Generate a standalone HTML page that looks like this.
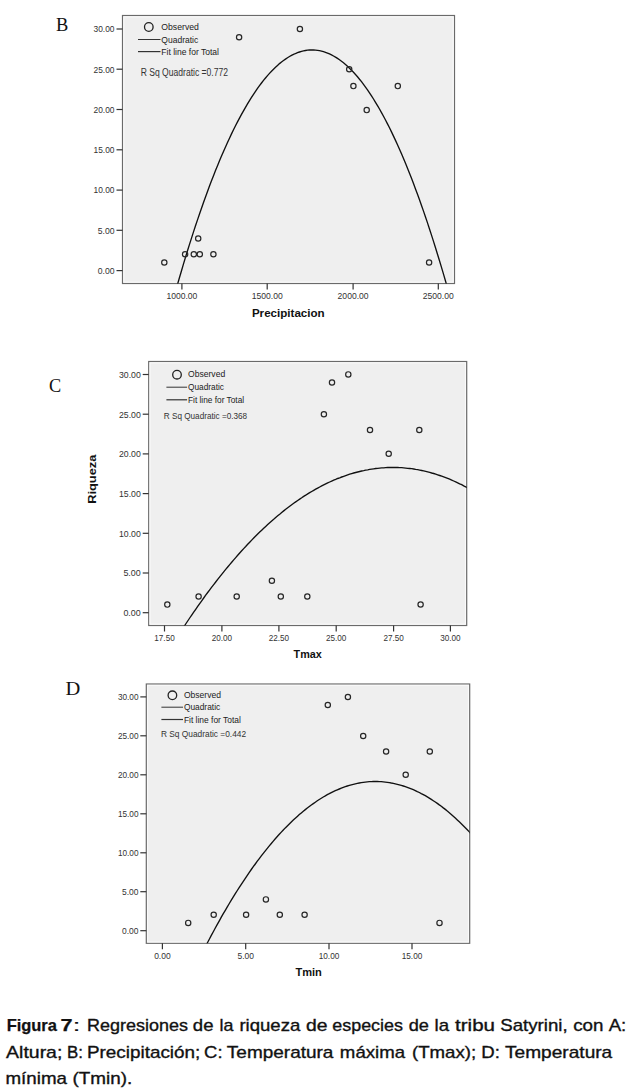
<!DOCTYPE html>
<html><head><meta charset="utf-8"><style>
html,body{margin:0;padding:0;background:#fff;}
body{width:627px;height:1089px;position:relative;overflow:hidden;}
svg{position:absolute;left:0;top:0;}
</style></head><body>
<svg width="627" height="1089" viewBox="0 0 627 1089">
<clipPath id="clipB"><rect x="122.5" y="15.5" width="332.0" height="268.0"/></clipPath>
<rect x="122.5" y="15.5" width="332.0" height="268.0" fill="#efefef" stroke="#6a6a6a" stroke-width="1.2"/>
<rect x="123.8" y="16.8" width="329.4" height="265.4" fill="none" stroke="#fbfbfb" stroke-width="1"/>
<line x1="116.5" y1="270.6" x2="122.5" y2="270.6" stroke="#333" stroke-width="1.2"/>
<text x="114.5" y="273.9" font-size="9.6" font-weight="normal" fill="#333" text-anchor="end" font-family='"Liberation Sans", sans-serif' textLength="16.8" lengthAdjust="spacingAndGlyphs" >0.00</text>
<line x1="116.5" y1="230.3" x2="122.5" y2="230.3" stroke="#333" stroke-width="1.2"/>
<text x="114.5" y="233.6" font-size="9.6" font-weight="normal" fill="#333" text-anchor="end" font-family='"Liberation Sans", sans-serif' textLength="16.8" lengthAdjust="spacingAndGlyphs" >5.00</text>
<line x1="116.5" y1="190.1" x2="122.5" y2="190.1" stroke="#333" stroke-width="1.2"/>
<text x="114.5" y="193.4" font-size="9.6" font-weight="normal" fill="#333" text-anchor="end" font-family='"Liberation Sans", sans-serif' textLength="21.0" lengthAdjust="spacingAndGlyphs" >10.00</text>
<line x1="116.5" y1="149.8" x2="122.5" y2="149.8" stroke="#333" stroke-width="1.2"/>
<text x="114.5" y="153.1" font-size="9.6" font-weight="normal" fill="#333" text-anchor="end" font-family='"Liberation Sans", sans-serif' textLength="21.0" lengthAdjust="spacingAndGlyphs" >15.00</text>
<line x1="116.5" y1="109.5" x2="122.5" y2="109.5" stroke="#333" stroke-width="1.2"/>
<text x="114.5" y="112.8" font-size="9.6" font-weight="normal" fill="#333" text-anchor="end" font-family='"Liberation Sans", sans-serif' textLength="21.0" lengthAdjust="spacingAndGlyphs" >20.00</text>
<line x1="116.5" y1="69.2" x2="122.5" y2="69.2" stroke="#333" stroke-width="1.2"/>
<text x="114.5" y="72.5" font-size="9.6" font-weight="normal" fill="#333" text-anchor="end" font-family='"Liberation Sans", sans-serif' textLength="21.0" lengthAdjust="spacingAndGlyphs" >25.00</text>
<line x1="116.5" y1="29.0" x2="122.5" y2="29.0" stroke="#333" stroke-width="1.2"/>
<text x="114.5" y="32.3" font-size="9.6" font-weight="normal" fill="#333" text-anchor="end" font-family='"Liberation Sans", sans-serif' textLength="21.0" lengthAdjust="spacingAndGlyphs" >30.00</text>
<line x1="181.9" y1="283.5" x2="181.9" y2="289.5" stroke="#333" stroke-width="1.2"/>
<text x="181.9" y="299.3" font-size="9.6" font-weight="normal" fill="#333" text-anchor="middle" font-family='"Liberation Sans", sans-serif' textLength="31.0" lengthAdjust="spacingAndGlyphs" >1000.00</text>
<line x1="267.2" y1="283.5" x2="267.2" y2="289.5" stroke="#333" stroke-width="1.2"/>
<text x="267.2" y="299.3" font-size="9.6" font-weight="normal" fill="#333" text-anchor="middle" font-family='"Liberation Sans", sans-serif' textLength="31.0" lengthAdjust="spacingAndGlyphs" >1500.00</text>
<line x1="353.1" y1="283.5" x2="353.1" y2="289.5" stroke="#333" stroke-width="1.2"/>
<text x="353.1" y="299.3" font-size="9.6" font-weight="normal" fill="#333" text-anchor="middle" font-family='"Liberation Sans", sans-serif' textLength="31.0" lengthAdjust="spacingAndGlyphs" >2000.00</text>
<line x1="438.3" y1="283.5" x2="438.3" y2="289.5" stroke="#333" stroke-width="1.2"/>
<text x="438.3" y="299.3" font-size="9.6" font-weight="normal" fill="#333" text-anchor="middle" font-family='"Liberation Sans", sans-serif' textLength="31.0" lengthAdjust="spacingAndGlyphs" >2500.00</text>
<text x="56" y="31" font-size="18" font-weight="normal" fill="#111" text-anchor="start" font-family='"Liberation Serif", serif' textLength="12.3" lengthAdjust="spacingAndGlyphs" >B</text>
<circle cx="148.8" cy="27" r="4.3" fill="none" stroke="#222" stroke-width="1.3"/>
<text x="161.3" y="29.7" font-size="9" font-weight="normal" fill="#222" text-anchor="start" font-family='"Liberation Sans", sans-serif' textLength="37.6" lengthAdjust="spacingAndGlyphs" >Observed</text>
<line x1="138" y1="39.5" x2="160.5" y2="39.5" stroke="#333" stroke-width="1"/>
<text x="161.3" y="42.7" font-size="9" font-weight="normal" fill="#222" text-anchor="start" font-family='"Liberation Sans", sans-serif' textLength="37" lengthAdjust="spacingAndGlyphs" >Quadratic</text>
<line x1="138" y1="51.6" x2="160.5" y2="51.6" stroke="#333" stroke-width="1.2"/>
<text x="161.3" y="54.8" font-size="9" font-weight="normal" fill="#222" text-anchor="start" font-family='"Liberation Sans", sans-serif' textLength="57.7" lengthAdjust="spacingAndGlyphs" >Fit line for Total</text>
<text x="140.7" y="76.4" font-size="10" font-weight="normal" fill="#333" text-anchor="start" font-family='"Liberation Sans", sans-serif' textLength="87.3" lengthAdjust="spacingAndGlyphs" >R Sq Quadratic =0.772</text>
<path d="M117.5,540.2 L119.5,530.2 L121.5,520.3 L123.5,510.5 L125.5,500.7 L127.5,491.1 L129.5,481.6 L131.5,472.2 L133.5,462.9 L135.5,453.7 L137.5,444.6 L139.5,435.6 L141.5,426.7 L143.5,417.9 L145.5,409.2 L147.5,400.6 L149.5,392.2 L151.5,383.8 L153.5,375.5 L155.5,367.4 L157.5,359.3 L159.5,351.3 L161.5,343.5 L163.5,335.7 L165.5,328.1 L167.5,320.6 L169.5,313.1 L171.5,305.8 L173.5,298.5 L175.5,291.4 L177.5,284.4 L179.5,277.5 L181.5,270.7 L183.5,263.9 L185.5,257.3 L187.5,250.8 L189.5,244.4 L191.5,238.1 L193.5,231.9 L195.5,225.8 L197.5,219.9 L199.5,214.0 L201.5,208.2 L203.5,202.5 L205.5,196.9 L207.5,191.5 L209.5,186.1 L211.5,180.8 L213.5,175.7 L215.5,170.6 L217.5,165.7 L219.5,160.8 L221.5,156.1 L223.5,151.4 L225.5,146.9 L227.5,142.5 L229.5,138.2 L231.5,133.9 L233.5,129.8 L235.5,125.8 L237.5,121.9 L239.5,118.1 L241.5,114.4 L243.5,110.8 L245.5,107.3 L247.5,103.9 L249.5,100.6 L251.5,97.4 L253.5,94.3 L255.5,91.3 L257.5,88.4 L259.5,85.7 L261.5,83.0 L263.5,80.4 L265.5,78.0 L267.5,75.6 L269.5,73.4 L271.5,71.2 L273.5,69.2 L275.5,67.2 L277.5,65.4 L279.5,63.6 L281.5,62.0 L283.5,60.5 L285.5,59.1 L287.5,57.7 L289.5,56.5 L291.5,55.4 L293.5,54.4 L295.5,53.5 L297.5,52.7 L299.5,52.0 L301.5,51.4 L303.5,50.9 L305.5,50.5 L307.5,50.2 L309.5,50.0 L311.5,50.0 L313.5,50.0 L315.5,50.1 L317.5,50.4 L319.5,50.7 L321.5,51.1 L323.5,51.7 L325.5,52.3 L327.5,53.1 L329.5,53.9 L331.5,54.9 L333.5,56.0 L335.5,57.1 L337.5,58.4 L339.5,59.8 L341.5,61.3 L343.5,62.8 L345.5,64.5 L347.5,66.3 L349.5,68.2 L351.5,70.2 L353.5,72.3 L355.5,74.5 L357.5,76.8 L359.5,79.2 L361.5,81.7 L363.5,84.4 L365.5,87.1 L367.5,89.9 L369.5,92.8 L371.5,95.9 L373.5,99.0 L375.5,102.3 L377.5,105.6 L379.5,109.0 L381.5,112.6 L383.5,116.3 L385.5,120.0 L387.5,123.9 L389.5,127.8 L391.5,131.9 L393.5,136.1 L395.5,140.4 L397.5,144.7 L399.5,149.2 L401.5,153.8 L403.5,158.5 L405.5,163.3 L407.5,168.2 L409.5,173.2 L411.5,178.3 L413.5,183.5 L415.5,188.9 L417.5,194.3 L419.5,199.8 L421.5,205.4 L423.5,211.1 L425.5,217.0 L427.5,222.9 L429.5,229.0 L431.5,235.1 L433.5,241.4 L435.5,247.7 L437.5,254.2 L439.5,260.7 L441.5,267.4 L443.5,274.1 L445.5,281.0 L447.5,288.0 L449.5,295.1 L451.5,302.3 L453.5,309.5 L455.5,316.9 L457.5,324.4 L459.5,332.0" fill="none" stroke="#111" stroke-width="1.35" clip-path="url(#clipB)"/>
<circle cx="164.3" cy="262.5" r="2.65" fill="none" stroke="#262626" stroke-width="1.2"/>
<circle cx="185.1" cy="254.2" r="2.65" fill="none" stroke="#262626" stroke-width="1.2"/>
<circle cx="193.8" cy="254.2" r="2.65" fill="none" stroke="#262626" stroke-width="1.2"/>
<circle cx="199.8" cy="254.2" r="2.65" fill="none" stroke="#262626" stroke-width="1.2"/>
<circle cx="213.4" cy="254.2" r="2.65" fill="none" stroke="#262626" stroke-width="1.2"/>
<circle cx="198.2" cy="238.5" r="2.65" fill="none" stroke="#262626" stroke-width="1.2"/>
<circle cx="239.1" cy="37.2" r="2.65" fill="none" stroke="#262626" stroke-width="1.2"/>
<circle cx="299.9" cy="29.0" r="2.65" fill="none" stroke="#262626" stroke-width="1.2"/>
<circle cx="349.2" cy="69.3" r="2.65" fill="none" stroke="#262626" stroke-width="1.2"/>
<circle cx="353.4" cy="86.1" r="2.65" fill="none" stroke="#262626" stroke-width="1.2"/>
<circle cx="366.7" cy="110.1" r="2.65" fill="none" stroke="#262626" stroke-width="1.2"/>
<circle cx="397.8" cy="86.1" r="2.65" fill="none" stroke="#262626" stroke-width="1.2"/>
<circle cx="429.1" cy="262.5" r="2.65" fill="none" stroke="#262626" stroke-width="1.2"/>
<text x="251.9" y="316.5" font-size="11.5" font-weight="bold" fill="#111" text-anchor="start" font-family='"Liberation Sans", sans-serif' textLength="72.8" lengthAdjust="spacingAndGlyphs" >Precipitacion</text>
<clipPath id="clipC"><rect x="148.7" y="361.5" width="318.0" height="264.0"/></clipPath>
<rect x="148.7" y="361.5" width="318.0" height="264.0" fill="#efefef" stroke="#6a6a6a" stroke-width="1.2"/>
<rect x="150.0" y="362.8" width="315.4" height="261.4" fill="none" stroke="#fbfbfb" stroke-width="1"/>
<line x1="142.7" y1="612.7" x2="148.7" y2="612.7" stroke="#333" stroke-width="1.2"/>
<text x="140.8" y="616.0" font-size="9.6" font-weight="normal" fill="#333" text-anchor="end" font-family='"Liberation Sans", sans-serif' textLength="17.4" lengthAdjust="spacingAndGlyphs" >0.00</text>
<line x1="142.7" y1="573.0" x2="148.7" y2="573.0" stroke="#333" stroke-width="1.2"/>
<text x="140.8" y="576.3" font-size="9.6" font-weight="normal" fill="#333" text-anchor="end" font-family='"Liberation Sans", sans-serif' textLength="17.4" lengthAdjust="spacingAndGlyphs" >5.00</text>
<line x1="142.7" y1="533.3" x2="148.7" y2="533.3" stroke="#333" stroke-width="1.2"/>
<text x="140.8" y="536.6" font-size="9.6" font-weight="normal" fill="#333" text-anchor="end" font-family='"Liberation Sans", sans-serif' textLength="21.8" lengthAdjust="spacingAndGlyphs" >10.00</text>
<line x1="142.7" y1="493.6" x2="148.7" y2="493.6" stroke="#333" stroke-width="1.2"/>
<text x="140.8" y="496.9" font-size="9.6" font-weight="normal" fill="#333" text-anchor="end" font-family='"Liberation Sans", sans-serif' textLength="21.8" lengthAdjust="spacingAndGlyphs" >15.00</text>
<line x1="142.7" y1="453.9" x2="148.7" y2="453.9" stroke="#333" stroke-width="1.2"/>
<text x="140.8" y="457.2" font-size="9.6" font-weight="normal" fill="#333" text-anchor="end" font-family='"Liberation Sans", sans-serif' textLength="21.8" lengthAdjust="spacingAndGlyphs" >20.00</text>
<line x1="142.7" y1="414.2" x2="148.7" y2="414.2" stroke="#333" stroke-width="1.2"/>
<text x="140.8" y="417.5" font-size="9.6" font-weight="normal" fill="#333" text-anchor="end" font-family='"Liberation Sans", sans-serif' textLength="21.8" lengthAdjust="spacingAndGlyphs" >25.00</text>
<line x1="142.7" y1="374.5" x2="148.7" y2="374.5" stroke="#333" stroke-width="1.2"/>
<text x="140.8" y="377.8" font-size="9.6" font-weight="normal" fill="#333" text-anchor="end" font-family='"Liberation Sans", sans-serif' textLength="21.8" lengthAdjust="spacingAndGlyphs" >30.00</text>
<line x1="164.5" y1="625.5" x2="164.5" y2="631.5" stroke="#333" stroke-width="1.2"/>
<text x="164.5" y="641.3" font-size="9.6" font-weight="normal" fill="#333" text-anchor="middle" font-family='"Liberation Sans", sans-serif' textLength="20.4" lengthAdjust="spacingAndGlyphs" >17.50</text>
<line x1="221.9" y1="625.5" x2="221.9" y2="631.5" stroke="#333" stroke-width="1.2"/>
<text x="221.9" y="641.3" font-size="9.6" font-weight="normal" fill="#333" text-anchor="middle" font-family='"Liberation Sans", sans-serif' textLength="20.4" lengthAdjust="spacingAndGlyphs" >20.00</text>
<line x1="278.9" y1="625.5" x2="278.9" y2="631.5" stroke="#333" stroke-width="1.2"/>
<text x="278.9" y="641.3" font-size="9.6" font-weight="normal" fill="#333" text-anchor="middle" font-family='"Liberation Sans", sans-serif' textLength="20.4" lengthAdjust="spacingAndGlyphs" >22.50</text>
<line x1="336.2" y1="625.5" x2="336.2" y2="631.5" stroke="#333" stroke-width="1.2"/>
<text x="336.2" y="641.3" font-size="9.6" font-weight="normal" fill="#333" text-anchor="middle" font-family='"Liberation Sans", sans-serif' textLength="20.4" lengthAdjust="spacingAndGlyphs" >25.00</text>
<line x1="393.6" y1="625.5" x2="393.6" y2="631.5" stroke="#333" stroke-width="1.2"/>
<text x="393.6" y="641.3" font-size="9.6" font-weight="normal" fill="#333" text-anchor="middle" font-family='"Liberation Sans", sans-serif' textLength="20.4" lengthAdjust="spacingAndGlyphs" >27.50</text>
<line x1="450.4" y1="625.5" x2="450.4" y2="631.5" stroke="#333" stroke-width="1.2"/>
<text x="450.4" y="641.3" font-size="9.6" font-weight="normal" fill="#333" text-anchor="middle" font-family='"Liberation Sans", sans-serif' textLength="20.4" lengthAdjust="spacingAndGlyphs" >30.00</text>
<text x="49" y="392.3" font-size="18" font-weight="normal" fill="#111" text-anchor="start" font-family='"Liberation Serif", serif' textLength="12.2" lengthAdjust="spacingAndGlyphs" >C</text>
<circle cx="177" cy="374.7" r="4.3" fill="none" stroke="#222" stroke-width="1.3"/>
<text x="188" y="377.2" font-size="9" font-weight="normal" fill="#222" text-anchor="start" font-family='"Liberation Sans", sans-serif' textLength="37.2" lengthAdjust="spacingAndGlyphs" >Observed</text>
<line x1="166.4" y1="387.2" x2="187.1" y2="387.2" stroke="#333" stroke-width="1"/>
<text x="188" y="390.4" font-size="9" font-weight="normal" fill="#222" text-anchor="start" font-family='"Liberation Sans", sans-serif' textLength="36" lengthAdjust="spacingAndGlyphs" >Quadratic</text>
<line x1="166.4" y1="399.8" x2="187.1" y2="399.8" stroke="#333" stroke-width="1.2"/>
<text x="188" y="403.0" font-size="9" font-weight="normal" fill="#222" text-anchor="start" font-family='"Liberation Sans", sans-serif' textLength="56.1" lengthAdjust="spacingAndGlyphs" >Fit line for Total</text>
<text x="163.8" y="419.3" font-size="9" font-weight="normal" fill="#333" text-anchor="start" font-family='"Liberation Sans", sans-serif' textLength="83.3" lengthAdjust="spacingAndGlyphs" >R Sq Quadratic =0.368</text>
<path d="M143.7,693.9 L145.7,690.3 L147.7,686.7 L149.7,683.2 L151.7,679.6 L153.7,676.1 L155.7,672.7 L157.7,669.2 L159.7,665.8 L161.7,662.4 L163.7,659.0 L165.7,655.7 L167.7,652.4 L169.7,649.1 L171.7,645.9 L173.7,642.7 L175.7,639.5 L177.7,636.3 L179.7,633.2 L181.7,630.1 L183.7,627.1 L185.7,624.0 L187.7,621.0 L189.7,618.0 L191.7,615.1 L193.7,612.2 L195.7,609.3 L197.7,606.4 L199.7,603.6 L201.7,600.8 L203.7,598.0 L205.7,595.2 L207.7,592.5 L209.7,589.8 L211.7,587.2 L213.7,584.6 L215.7,582.0 L217.7,579.4 L219.7,576.8 L221.7,574.3 L223.7,571.8 L225.7,569.4 L227.7,567.0 L229.7,564.6 L231.7,562.2 L233.7,559.9 L235.7,557.6 L237.7,555.3 L239.7,553.0 L241.7,550.8 L243.7,548.6 L245.7,546.5 L247.7,544.3 L249.7,542.2 L251.7,540.1 L253.7,538.1 L255.7,536.1 L257.7,534.1 L259.7,532.1 L261.7,530.2 L263.7,528.3 L265.7,526.4 L267.7,524.6 L269.7,522.8 L271.7,521.0 L273.7,519.3 L275.7,517.5 L277.7,515.8 L279.7,514.2 L281.7,512.5 L283.7,510.9 L285.7,509.3 L287.7,507.8 L289.7,506.3 L291.7,504.8 L293.7,503.3 L295.7,501.9 L297.7,500.5 L299.7,499.1 L301.7,497.8 L303.7,496.4 L305.7,495.2 L307.7,493.9 L309.7,492.7 L311.7,491.5 L313.7,490.3 L315.7,489.2 L317.7,488.1 L319.7,487.0 L321.7,485.9 L323.7,484.9 L325.7,483.9 L327.7,482.9 L329.7,482.0 L331.7,481.1 L333.7,480.2 L335.7,479.4 L337.7,478.5 L339.7,477.8 L341.7,477.0 L343.7,476.3 L345.7,475.6 L347.7,474.9 L349.7,474.2 L351.7,473.6 L353.7,473.0 L355.7,472.5 L357.7,472.0 L359.7,471.5 L361.7,471.0 L363.7,470.6 L365.7,470.1 L367.7,469.8 L369.7,469.4 L371.7,469.1 L373.7,468.8 L375.7,468.5 L377.7,468.3 L379.7,468.1 L381.7,467.9 L383.7,467.8 L385.7,467.6 L387.7,467.5 L389.7,467.5 L391.7,467.5 L393.7,467.5 L395.7,467.5 L397.7,467.5 L399.7,467.6 L401.7,467.7 L403.7,467.9 L405.7,468.1 L407.7,468.3 L409.7,468.5 L411.7,468.7 L413.7,469.0 L415.7,469.4 L417.7,469.7 L419.7,470.1 L421.7,470.5 L423.7,470.9 L425.7,471.4 L427.7,471.9 L429.7,472.4 L431.7,473.0 L433.7,473.5 L435.7,474.1 L437.7,474.8 L439.7,475.5 L441.7,476.2 L443.7,476.9 L445.7,477.6 L447.7,478.4 L449.7,479.2 L451.7,480.1 L453.7,481.0 L455.7,481.9 L457.7,482.8 L459.7,483.8 L461.7,484.7 L463.7,485.8 L465.7,486.8 L467.7,487.9 L469.7,489.0 L471.7,490.1" fill="none" stroke="#111" stroke-width="1.35" clip-path="url(#clipC)"/>
<circle cx="167.3" cy="604.6" r="2.65" fill="none" stroke="#262626" stroke-width="1.2"/>
<circle cx="198.6" cy="596.5" r="2.65" fill="none" stroke="#262626" stroke-width="1.2"/>
<circle cx="236.7" cy="596.5" r="2.65" fill="none" stroke="#262626" stroke-width="1.2"/>
<circle cx="271.9" cy="580.7" r="2.65" fill="none" stroke="#262626" stroke-width="1.2"/>
<circle cx="280.8" cy="596.5" r="2.65" fill="none" stroke="#262626" stroke-width="1.2"/>
<circle cx="307.3" cy="596.5" r="2.65" fill="none" stroke="#262626" stroke-width="1.2"/>
<circle cx="323.9" cy="414.2" r="2.65" fill="none" stroke="#262626" stroke-width="1.2"/>
<circle cx="332" cy="382.5" r="2.65" fill="none" stroke="#262626" stroke-width="1.2"/>
<circle cx="348.3" cy="374.4" r="2.65" fill="none" stroke="#262626" stroke-width="1.2"/>
<circle cx="370" cy="430" r="2.65" fill="none" stroke="#262626" stroke-width="1.2"/>
<circle cx="388.7" cy="453.8" r="2.65" fill="none" stroke="#262626" stroke-width="1.2"/>
<circle cx="419.3" cy="430" r="2.65" fill="none" stroke="#262626" stroke-width="1.2"/>
<circle cx="420.6" cy="604.5" r="2.65" fill="none" stroke="#262626" stroke-width="1.2"/>
<text x="293.6" y="658.3" font-size="11.5" font-weight="bold" fill="#111" text-anchor="start" font-family='"Liberation Sans", sans-serif' textLength="28.2" lengthAdjust="spacingAndGlyphs" >Tmax</text>
<g transform="translate(95.7,503.8) rotate(-90)"><text x="0" y="0" font-size="11.5" font-weight="bold" fill="#111" text-anchor="start" font-family='"Liberation Sans", sans-serif' textLength="49.2" lengthAdjust="spacingAndGlyphs" >Riqueza</text></g>
<clipPath id="clipD"><rect x="146.3" y="684" width="323.4" height="259.29999999999995"/></clipPath>
<rect x="146.3" y="684" width="323.4" height="259.29999999999995" fill="#efefef" stroke="#6a6a6a" stroke-width="1.2"/>
<rect x="147.60000000000002" y="685.3" width="320.79999999999995" height="256.69999999999993" fill="none" stroke="#fbfbfb" stroke-width="1"/>
<line x1="140.3" y1="930.7" x2="146.3" y2="930.7" stroke="#333" stroke-width="1.2"/>
<text x="138.5" y="934.0" font-size="9.6" font-weight="normal" fill="#333" text-anchor="end" font-family='"Liberation Sans", sans-serif' textLength="16.5" lengthAdjust="spacingAndGlyphs" >0.00</text>
<line x1="140.3" y1="891.7" x2="146.3" y2="891.7" stroke="#333" stroke-width="1.2"/>
<text x="138.5" y="895.0" font-size="9.6" font-weight="normal" fill="#333" text-anchor="end" font-family='"Liberation Sans", sans-serif' textLength="16.5" lengthAdjust="spacingAndGlyphs" >5.00</text>
<line x1="140.3" y1="852.8" x2="146.3" y2="852.8" stroke="#333" stroke-width="1.2"/>
<text x="138.5" y="856.0" font-size="9.6" font-weight="normal" fill="#333" text-anchor="end" font-family='"Liberation Sans", sans-serif' textLength="20.6" lengthAdjust="spacingAndGlyphs" >10.00</text>
<line x1="140.3" y1="813.8" x2="146.3" y2="813.8" stroke="#333" stroke-width="1.2"/>
<text x="138.5" y="817.1" font-size="9.6" font-weight="normal" fill="#333" text-anchor="end" font-family='"Liberation Sans", sans-serif' textLength="20.6" lengthAdjust="spacingAndGlyphs" >15.00</text>
<line x1="140.3" y1="774.8" x2="146.3" y2="774.8" stroke="#333" stroke-width="1.2"/>
<text x="138.5" y="778.1" font-size="9.6" font-weight="normal" fill="#333" text-anchor="end" font-family='"Liberation Sans", sans-serif' textLength="20.6" lengthAdjust="spacingAndGlyphs" >20.00</text>
<line x1="140.3" y1="735.8" x2="146.3" y2="735.8" stroke="#333" stroke-width="1.2"/>
<text x="138.5" y="739.1" font-size="9.6" font-weight="normal" fill="#333" text-anchor="end" font-family='"Liberation Sans", sans-serif' textLength="20.6" lengthAdjust="spacingAndGlyphs" >25.00</text>
<line x1="140.3" y1="696.9" x2="146.3" y2="696.9" stroke="#333" stroke-width="1.2"/>
<text x="138.5" y="700.1" font-size="9.6" font-weight="normal" fill="#333" text-anchor="end" font-family='"Liberation Sans", sans-serif' textLength="20.6" lengthAdjust="spacingAndGlyphs" >30.00</text>
<line x1="162.4" y1="943.3" x2="162.4" y2="949.3" stroke="#333" stroke-width="1.2"/>
<text x="162.4" y="959.0" font-size="9.6" font-weight="normal" fill="#333" text-anchor="middle" font-family='"Liberation Sans", sans-serif' textLength="16.5" lengthAdjust="spacingAndGlyphs" >0.00</text>
<line x1="245.7" y1="943.3" x2="245.7" y2="949.3" stroke="#333" stroke-width="1.2"/>
<text x="245.7" y="959.0" font-size="9.6" font-weight="normal" fill="#333" text-anchor="middle" font-family='"Liberation Sans", sans-serif' textLength="16.5" lengthAdjust="spacingAndGlyphs" >5.00</text>
<line x1="329" y1="943.3" x2="329" y2="949.3" stroke="#333" stroke-width="1.2"/>
<text x="329" y="959.0" font-size="9.6" font-weight="normal" fill="#333" text-anchor="middle" font-family='"Liberation Sans", sans-serif' textLength="20.6" lengthAdjust="spacingAndGlyphs" >10.00</text>
<line x1="412" y1="943.3" x2="412" y2="949.3" stroke="#333" stroke-width="1.2"/>
<text x="412" y="959.0" font-size="9.6" font-weight="normal" fill="#333" text-anchor="middle" font-family='"Liberation Sans", sans-serif' textLength="20.6" lengthAdjust="spacingAndGlyphs" >15.00</text>
<text x="65.4" y="695.1" font-size="18" font-weight="normal" fill="#111" text-anchor="start" font-family='"Liberation Serif", serif' textLength="14.8" lengthAdjust="spacingAndGlyphs" >D</text>
<circle cx="172.4" cy="695.3" r="4.3" fill="none" stroke="#222" stroke-width="1.3"/>
<text x="183.9" y="697.6" font-size="9" font-weight="normal" fill="#222" text-anchor="start" font-family='"Liberation Sans", sans-serif' textLength="37.1" lengthAdjust="spacingAndGlyphs" >Observed</text>
<line x1="161.4" y1="707.2" x2="183" y2="707.2" stroke="#333" stroke-width="1"/>
<text x="183.9" y="710.4" font-size="9" font-weight="normal" fill="#222" text-anchor="start" font-family='"Liberation Sans", sans-serif' textLength="36.3" lengthAdjust="spacingAndGlyphs" >Quadratic</text>
<line x1="161.4" y1="719.5" x2="183" y2="719.5" stroke="#333" stroke-width="1.2"/>
<text x="183.9" y="722.7" font-size="9" font-weight="normal" fill="#222" text-anchor="start" font-family='"Liberation Sans", sans-serif' textLength="57" lengthAdjust="spacingAndGlyphs" >Fit line for Total</text>
<text x="160.9" y="737.2" font-size="9" font-weight="normal" fill="#333" text-anchor="start" font-family='"Liberation Sans", sans-serif' textLength="85.2" lengthAdjust="spacingAndGlyphs" >R Sq Quadratic =0.442</text>
<path d="M141.3,1094.8 L143.3,1089.4 L145.3,1084.1 L147.3,1078.9 L149.3,1073.7 L151.3,1068.6 L153.3,1063.5 L155.3,1058.4 L157.3,1053.4 L159.3,1048.4 L161.3,1043.5 L163.3,1038.6 L165.3,1033.8 L167.3,1029.0 L169.3,1024.3 L171.3,1019.6 L173.3,1015.0 L175.3,1010.4 L177.3,1005.8 L179.3,1001.3 L181.3,996.9 L183.3,992.4 L185.3,988.1 L187.3,983.7 L189.3,979.5 L191.3,975.2 L193.3,971.1 L195.3,966.9 L197.3,962.8 L199.3,958.8 L201.3,954.8 L203.3,950.8 L205.3,946.9 L207.3,943.0 L209.3,939.2 L211.3,935.4 L213.3,931.7 L215.3,928.0 L217.3,924.4 L219.3,920.8 L221.3,917.2 L223.3,913.7 L225.3,910.3 L227.3,906.9 L229.3,903.5 L231.3,900.2 L233.3,896.9 L235.3,893.7 L237.3,890.5 L239.3,887.4 L241.3,884.3 L243.3,881.3 L245.3,878.3 L247.3,875.3 L249.3,872.4 L251.3,869.5 L253.3,866.7 L255.3,864.0 L257.3,861.2 L259.3,858.6 L261.3,855.9 L263.3,853.3 L265.3,850.8 L267.3,848.3 L269.3,845.9 L271.3,843.5 L273.3,841.1 L275.3,838.8 L277.3,836.5 L279.3,834.3 L281.3,832.1 L283.3,830.0 L285.3,827.9 L287.3,825.9 L289.3,823.9 L291.3,821.9 L293.3,820.0 L295.3,818.2 L297.3,816.4 L299.3,814.6 L301.3,812.9 L303.3,811.2 L305.3,809.6 L307.3,808.0 L309.3,806.5 L311.3,805.0 L313.3,803.6 L315.3,802.2 L317.3,800.8 L319.3,799.5 L321.3,798.2 L323.3,797.0 L325.3,795.9 L327.3,794.7 L329.3,793.7 L331.3,792.6 L333.3,791.6 L335.3,790.7 L337.3,789.8 L339.3,789.0 L341.3,788.2 L343.3,787.4 L345.3,786.7 L347.3,786.0 L349.3,785.4 L351.3,784.8 L353.3,784.3 L355.3,783.8 L357.3,783.4 L359.3,783.0 L361.3,782.7 L363.3,782.4 L365.3,782.1 L367.3,781.9 L369.3,781.7 L371.3,781.6 L373.3,781.5 L375.3,781.5 L377.3,781.5 L379.3,781.6 L381.3,781.7 L383.3,781.9 L385.3,782.1 L387.3,782.3 L389.3,782.6 L391.3,783.0 L393.3,783.3 L395.3,783.8 L397.3,784.3 L399.3,784.8 L401.3,785.4 L403.3,786.0 L405.3,786.6 L407.3,787.3 L409.3,788.1 L411.3,788.9 L413.3,789.7 L415.3,790.6 L417.3,791.6 L419.3,792.5 L421.3,793.6 L423.3,794.6 L425.3,795.7 L427.3,796.9 L429.3,798.1 L431.3,799.4 L433.3,800.7 L435.3,802.0 L437.3,803.4 L439.3,804.9 L441.3,806.3 L443.3,807.9 L445.3,809.4 L447.3,811.1 L449.3,812.7 L451.3,814.4 L453.3,816.2 L455.3,818.0 L457.3,819.9 L459.3,821.8 L461.3,823.7 L463.3,825.7 L465.3,827.7 L467.3,829.8 L469.3,831.9 L471.3,834.1 L473.3,836.3 L475.3,838.6" fill="none" stroke="#111" stroke-width="1.35" clip-path="url(#clipD)"/>
<circle cx="188.2" cy="922.9" r="2.65" fill="none" stroke="#262626" stroke-width="1.2"/>
<circle cx="213.7" cy="914.8" r="2.65" fill="none" stroke="#262626" stroke-width="1.2"/>
<circle cx="246.1" cy="914.8" r="2.65" fill="none" stroke="#262626" stroke-width="1.2"/>
<circle cx="265.9" cy="899.4" r="2.65" fill="none" stroke="#262626" stroke-width="1.2"/>
<circle cx="279.8" cy="914.8" r="2.65" fill="none" stroke="#262626" stroke-width="1.2"/>
<circle cx="304.6" cy="914.8" r="2.65" fill="none" stroke="#262626" stroke-width="1.2"/>
<circle cx="327.8" cy="705" r="2.65" fill="none" stroke="#262626" stroke-width="1.2"/>
<circle cx="347.9" cy="697" r="2.65" fill="none" stroke="#262626" stroke-width="1.2"/>
<circle cx="363.2" cy="736" r="2.65" fill="none" stroke="#262626" stroke-width="1.2"/>
<circle cx="386.1" cy="751.5" r="2.65" fill="none" stroke="#262626" stroke-width="1.2"/>
<circle cx="405.7" cy="774.7" r="2.65" fill="none" stroke="#262626" stroke-width="1.2"/>
<circle cx="429.8" cy="751.5" r="2.65" fill="none" stroke="#262626" stroke-width="1.2"/>
<circle cx="439.5" cy="922.9" r="2.65" fill="none" stroke="#262626" stroke-width="1.2"/>
<text x="295.4" y="975.6" font-size="11.5" font-weight="bold" fill="#111" text-anchor="start" font-family='"Liberation Sans", sans-serif' textLength="26.4" lengthAdjust="spacingAndGlyphs" >Tmin</text>
</svg>
<svg width="627" height="1089" viewBox="0 0 627 1089" style="position:absolute;left:0;top:0"><g fill="#111" stroke="#111" stroke-width="0.35" font-family='"Liberation Sans", sans-serif'><text x="6.63" y="1031.1" font-size="17" font-weight="bold" stroke-width="0.25" textLength="50.32" lengthAdjust="spacingAndGlyphs">Figura</text>
<text x="60.51" y="1031.1" font-size="17" font-weight="bold" stroke-width="0.25" textLength="12.05" lengthAdjust="spacingAndGlyphs">7</text>
<text x="72.26" y="1031.1" font-size="17" stroke-width="0" textLength="8.61" lengthAdjust="spacingAndGlyphs">:</text>
<text x="87.02" y="1031.1" font-size="17" textLength="100.96" lengthAdjust="spacingAndGlyphs">Regresiones</text>
<text x="192.84" y="1031.1" font-size="17" textLength="20.64" lengthAdjust="spacingAndGlyphs">de</text>
<text x="219.55" y="1031.1" font-size="17" textLength="13.88" lengthAdjust="spacingAndGlyphs">la</text>
<text x="239.40" y="1031.1" font-size="17" textLength="60.95" lengthAdjust="spacingAndGlyphs">riqueza</text>
<text x="306.00" y="1031.1" font-size="17" textLength="21.50" lengthAdjust="spacingAndGlyphs">de</text>
<text x="332.26" y="1031.1" font-size="17" textLength="70.77" lengthAdjust="spacingAndGlyphs">especies</text>
<text x="408.75" y="1031.1" font-size="17" textLength="20.21" lengthAdjust="spacingAndGlyphs">de</text>
<text x="434.59" y="1031.1" font-size="17" textLength="14.53" lengthAdjust="spacingAndGlyphs">la</text>
<text x="455.06" y="1031.1" font-size="17" textLength="39.96" lengthAdjust="spacingAndGlyphs">tribu</text>
<text x="500.22" y="1031.1" font-size="17" textLength="67.44" lengthAdjust="spacingAndGlyphs">Satyrini,</text>
<text x="573.23" y="1031.1" font-size="17" textLength="30.29" lengthAdjust="spacingAndGlyphs">con</text>
<text x="608.70" y="1031.1" font-size="17" textLength="17.61" lengthAdjust="spacingAndGlyphs">A:</text>
<text x="6.10" y="1058" font-size="17" textLength="56.26" lengthAdjust="spacingAndGlyphs">Altura;</text>
<text x="66.91" y="1058" font-size="17" textLength="15.94" lengthAdjust="spacingAndGlyphs">B:</text>
<text x="86.94" y="1058" font-size="17" textLength="113.38" lengthAdjust="spacingAndGlyphs">Precipitación;</text>
<text x="204.13" y="1058" font-size="17" textLength="18.39" lengthAdjust="spacingAndGlyphs">C:</text>
<text x="226.85" y="1058" font-size="17" textLength="106.57" lengthAdjust="spacingAndGlyphs">Temperatura</text>
<text x="339.89" y="1058" font-size="17" textLength="65.20" lengthAdjust="spacingAndGlyphs">máxima</text>
<text x="412.00" y="1058" font-size="17" textLength="64.19" lengthAdjust="spacingAndGlyphs">(Tmax);</text>
<text x="481.37" y="1058" font-size="17" textLength="18.57" lengthAdjust="spacingAndGlyphs">D:</text>
<text x="505.05" y="1058" font-size="17" textLength="107.18" lengthAdjust="spacingAndGlyphs">Temperatura</text>
<text x="5.49" y="1084.1" font-size="17" textLength="61.44" lengthAdjust="spacingAndGlyphs">mínima</text>
<text x="72.59" y="1084.1" font-size="17" textLength="59.70" lengthAdjust="spacingAndGlyphs">(Tmin).</text></g></svg>
</body></html>
